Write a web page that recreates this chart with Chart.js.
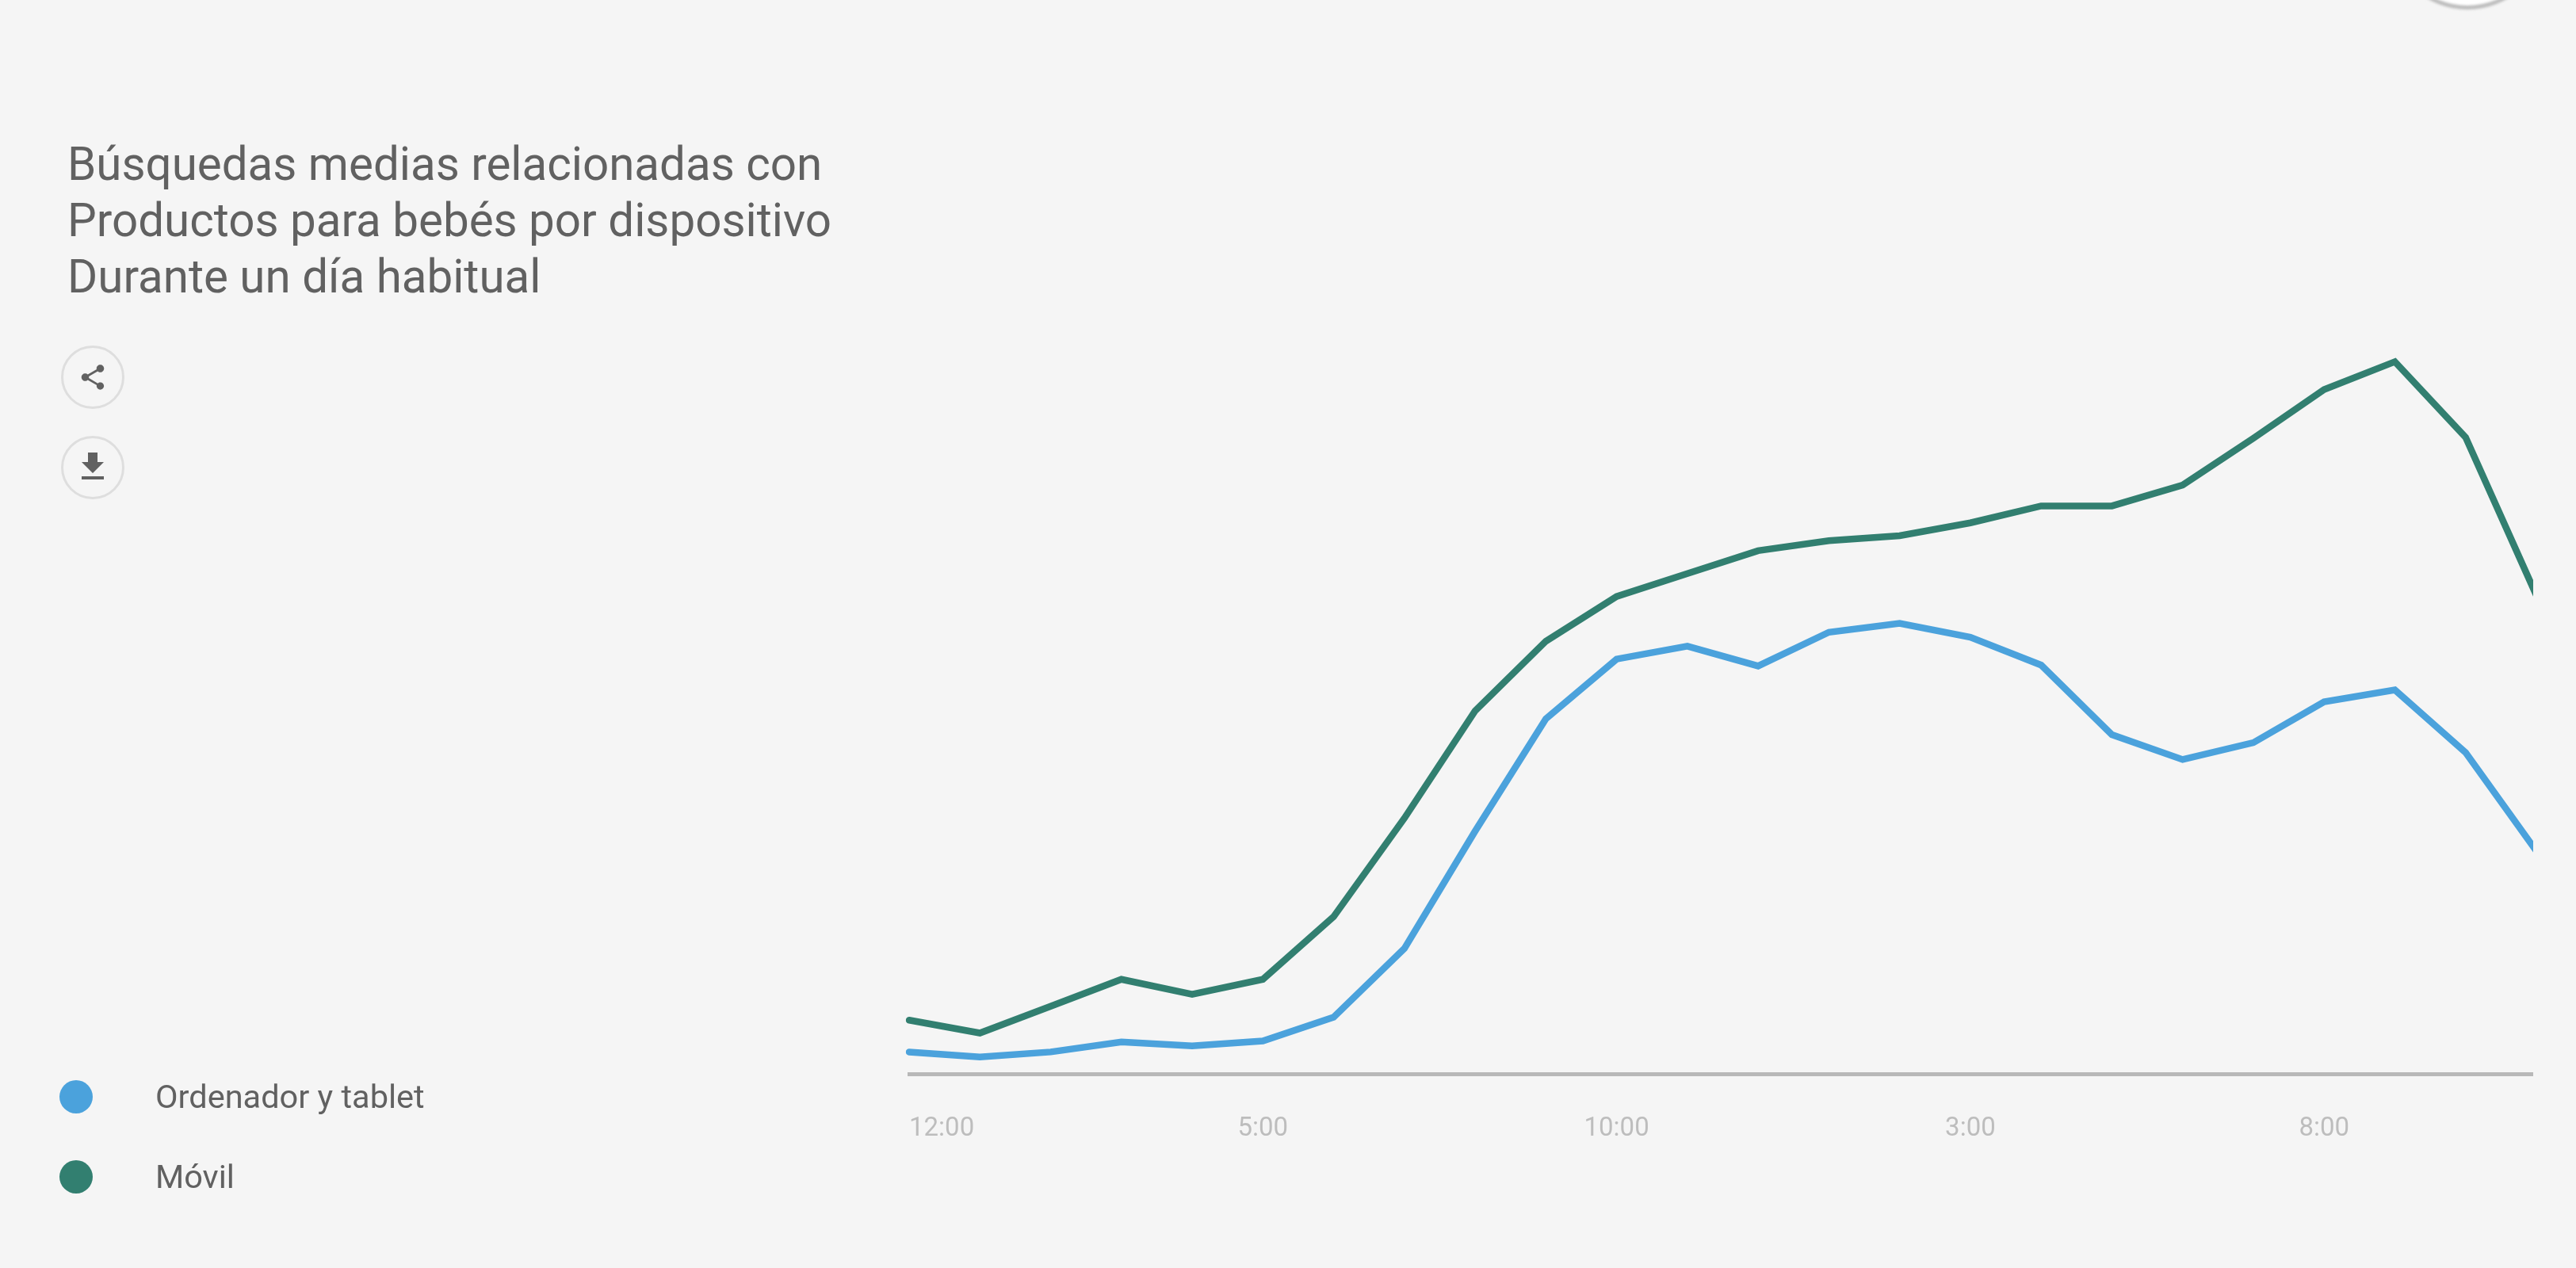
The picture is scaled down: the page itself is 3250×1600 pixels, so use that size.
<!DOCTYPE html>
<html lang="es">
<head>
<meta charset="utf-8">
<title>Búsquedas medias</title>
<script src="https://cdn.jsdelivr.net/npm/chart.js@4"></script>
<style>
  html, body { margin: 0; padding: 0; background: #f5f5f5; width: 3250px; height: 1600px; overflow: hidden; }
  body { position: relative; font-family: Roboto, sans-serif; color: #616161; }
  /* el grafico se corta a la derecha, la ultima hora queda fuera */
  #chartClip { position: absolute; left: 0; top: 0; width: 3196px; height: 1600px; overflow: hidden; }
  #chart { position: absolute; left: 0; top: 0; }
  #title { position: absolute; left: 85px; top: 172px; font-size: 58.3px; line-height: 71px; white-space: nowrap; }
  .btn { position: absolute; left: 77px; width: 74px; height: 74px; border: 3px solid #dedede; border-radius: 50%; }
  .btn svg { position: absolute; fill: #616161; }
  #topCircle { position: absolute; left: 3013px; top: -188px; width: 190px; height: 190px; border: 5px solid #bdbdbd; border-radius: 50%; background: #fff; filter: blur(1.5px); }
  .legendItem { position: absolute; left: 75px; height: 42px; line-height: 42px; font-size: 41.5px; white-space: nowrap; }
  .legendItem i { position: absolute; left: 0; top: 0; width: 42px; height: 42px; border-radius: 50%; }
  .legendItem span { position: absolute; left: 121px; top: 0; }
</style>
</head>
<body>
<div id="chartClip"><canvas id="chart" width="3250" height="1600"></canvas></div>

<div id="title">Búsquedas medias relacionadas con<br>Productos para bebés por dispositivo<br>Durante un día habitual</div>

<div class="btn" style="top:436px"><svg viewBox="0 0 24 24" style="left:18px;top:18px;width:38px;height:38px"><path d="M18 16.08c-.76 0-1.44.3-1.96.77L8.91 12.7c.05-.23.09-.46.09-.7s-.04-.47-.09-.7l7.05-4.11c.54.5 1.25.81 2.04.81 1.66 0 3-1.34 3-3s-1.34-3-3-3-3 1.34-3 3c0 .24.04.47.09.7L8.04 9.81C7.5 9.31 6.79 9 6 9c-1.66 0-3 1.34-3 3s1.34 3 3 3c.79 0 1.5-.31 2.04-.81l7.12 4.16c-.05.21-.08.43-.08.65 0 1.61 1.31 2.92 2.92 2.92 1.61 0 2.92-1.31 2.92-2.92s-1.31-2.92-2.92-2.92z"/></svg></div>
<div class="btn" style="top:550px"><svg viewBox="0 0 24 24" style="left:13px;top:12px;width:48px;height:48px"><path d="M19 9h-4V3H9v6H5l7 7 7-7zM5 18v2h14v-2H5z"/></svg></div>
<div id="topCircle"></div>

<div id="legend"></div>

<script>
const hours = ['12:00', '1:00', '2:00', '3:00', '4:00', '5:00', '6:00', '7:00', '8:00', '9:00', '10:00', '11:00',
               '12:00', '1:00', '2:00', '3:00', '4:00', '5:00', '6:00', '7:00', '8:00', '9:00', '10:00', '11:00'];
const tabletValues = [2.2, 1.7, 2.2, 3.2, 2.8, 3.3, 5.7, 12.6, 24.4, 35.7, 41.7, 43.0,
                      41.0, 44.4, 45.3, 43.9, 41.1, 34.1, 31.6, 33.3, 37.4, 38.6, 32.3, 22.4];
const mobileValues = [5.4, 4.1, 6.8, 9.5, 8.0, 9.5, 15.8, 25.7, 36.5, 43.5, 48.0, 50.3,
                      52.6, 53.6, 54.1, 55.4, 57.1, 57.1, 59.2, 63.9, 68.8, 71.6, 64.0, 48.1];
const seriesNames = ['Ordenador y tablet', 'Móvil'];
const seriesColors = ['#4ba2dc', '#327f70'];

// leyenda a mano, va a la izquierda del grafico
const legendTops = [1363, 1464];
seriesNames.forEach((name, i) => {
    const item = document.createElement('div');
    item.className = 'legendItem';
    item.style.top = legendTops[i] + 'px';
    item.innerHTML = '<i style="background:' + seriesColors[i] + '"></i><span>' + name + '</span>';
    document.getElementById('legend').appendChild(item);
});

const ctx = document.getElementById('chart').getContext('2d');
new Chart(ctx, {
    type: 'line',
    data: {
        labels: hours,
        datasets: [
            { label: seriesNames[0], data: tabletValues, borderColor: seriesColors[0] },
            { label: seriesNames[1], data: mobileValues, borderColor: seriesColors[1] }
        ]
    },
    options: {
        responsive: false,
        animation: false,
        devicePixelRatio: 1,
        layout: { padding: { left: 1147, right: 48, top: 100, bottom: 0 } },
        elements: {
            line: { borderWidth: 8.5, tension: 0, borderJoinStyle: 'miter', borderCapStyle: 'round', fill: false },
            point: { radius: 0 }
        },
        plugins: { legend: { display: false }, tooltip: { enabled: false } },
        scales: {
            x: {
                offset: false,
                afterFit: scale => { scale.height = 245; },
                grid: { display: false, drawTicks: false },
                border: { display: true, color: '#b8b8b8', width: 5 },
                ticks: {
                    autoSkip: false,
                    maxRotation: 0,
                    align: 'inner',
                    padding: 50,
                    color: '#bdbdbd',
                    font: { family: 'Roboto', size: 33 },
                    callback: function(value, index) {
                        // la ultima lleva un espacio para que 'inner' no alinee mal 8:00
                        if (index === hours.length - 1) return ' ';
                        return index % 5 === 0 ? this.getLabelForValue(value) : null;
                    }
                }
            },
            y: { display: false, min: 0, max: 100 }
        }
    }
});
</script>
</body>
</html>
